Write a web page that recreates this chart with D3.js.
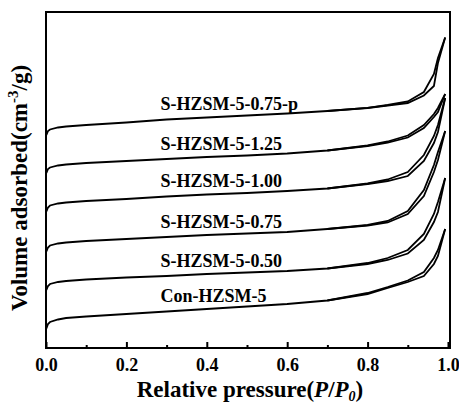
<!DOCTYPE html>
<html>
<head>
<meta charset="utf-8">
<script src="https://cdn.jsdelivr.net/npm/d3@7"></script>
<style>
  body { margin: 0; background: #fff; }
  text { font-family: "Liberation Serif", "Times New Roman", serif; font-weight: bold; }
</style>
</head>
<body>
<script>
// N2 isotherms, stacked with offsets (arbitrary y units)

const samples = ['S-HZSM-5-0.75-p', 'S-HZSM-5-1.25', 'S-HZSM-5-1.00', 'S-HZSM-5-0.75', 'S-HZSM-5-0.50', 'Con-HZSM-5'];

const adsP = [0.001, 0.005, 0.01, 0.03, 0.05, 0.1, 0.2, 0.3, 0.4, 0.5, 0.6, 0.7, 0.8, 0.85, 0.9, 0.94, 0.965, 0.975, 0.993];
const desP = [0.993, 0.975, 0.965, 0.94, 0.9, 0.85, 0.8, 0.7];

const ads075p = [213, 217, 218.5, 220.5, 221.5, 223, 225.5, 228.5, 230.5, 232.5, 234.5, 237, 240, 242.5, 245, 252.5, 262, 285, 310.5];
const des075p = [310.5, 290, 274, 256, 246.5, 243, 240.2, 237];
const ads125 = [175, 179, 180.5, 182.5, 183.5, 185, 187, 189, 191, 192.5, 194.5, 197.5, 202, 205.5, 210.5, 220, 231, 236, 254];
const des125 = [254, 240, 234, 223, 212.5, 206.5, 202.5, 197.5];
const ads100 = [136.5, 140.5, 142.5, 144.5, 145.5, 147, 149, 151.5, 153.5, 155, 157, 159.5, 164, 167, 172, 187, 205, 216, 250];
const des100 = [250, 223, 212, 193, 176, 168.5, 164.5, 159.5];
const ads075 = [96.5, 100.5, 102.5, 104.5, 105.5, 107, 109, 111, 113, 114.5, 116, 119, 122.5, 125.5, 134, 152, 176, 188, 217];
const des075 = [217, 196, 183, 158, 137, 127, 123, 119];
const ads050 = [58, 62, 64, 66, 67, 68.5, 70.5, 72, 74, 75.5, 77, 79.5, 84, 88, 94.5, 108, 126, 136, 170];
const des050 = [170, 146, 134, 114, 98, 90, 85, 79.5];
const adsCon = [19.5, 24, 26, 28.5, 30, 31.5, 34, 36.5, 39, 41.5, 44, 47.5, 54, 60, 66, 72, 84, 92, 119];
const desCon = [119, 98, 90, 76, 67.5, 61, 55, 47.5];

const adsAll = [ads075p, ads125, ads100, ads075, ads050, adsCon];
const desAll = [des075p, des125, des100, des075, des050, desCon];

const xTickValues = [0, 0.2, 0.4, 0.6, 0.8, 1.0];
const xMinorValues = [0.1, 0.3, 0.5, 0.7, 0.9];
const labelP = 0.285;

const svgWidth = 459;
const svgHeight = 403;
const margin = { top: 12, right: 9, bottom: 55, left: 46 };

const xScale = d3.scaleLinear()
  .domain([0, 1.005])
  .range([margin.left, svgWidth - margin.right]);

const yScale = d3.scaleLinear()
  .domain([0, 336])
  .range([svgHeight - margin.bottom, margin.top]);

const svg = d3.select('body').append('svg')
  .attr('width', svgWidth)
  .attr('height', svgHeight);

const line = d3.line()
  .x(d => xScale(d[0]))
  .y(d => yScale(d[1]));

// isotherm curves
samples.forEach((name, i) => {
  const ads = adsP.map((p, j) => [p, adsAll[i][j]]);
  const des = desP.map((p, j) => [p, desAll[i][j]]);
  svg.append('path')
    .attr('d', line(ads))
    .attr('fill', 'none')
    .attr('stroke', '#000')
    .attr('stroke-width', 1.8);
  svg.append('path')
    .attr('d', line(des))
    .attr('fill', 'none')
    .attr('stroke', '#000')
    .attr('stroke-width', 1.8);

  // label sits just above its curve
  const yAtLabel = d3.scaleLinear().domain(adsP).range(adsAll[i])(labelP);
  svg.append('text')
    .attr('x', xScale(labelP))
    .attr('y', yScale(yAtLabel) - 9.5)
    .attr('font-size', 18)
    .text(name);
});

// bottom axis: major + minor ticks pointing inward
const xAxis = d3.axisBottom(xScale)
  .tickValues(xTickValues)
  .tickFormat(d3.format('.1f'))
  .tickSizeInner(-6)
  .tickSizeOuter(0)
  .tickPadding(10);

const gx = svg.append('g')
  .attr('transform', `translate(0,${svgHeight - margin.bottom})`)
  .call(xAxis);
gx.select('.domain').remove();
gx.selectAll('line').attr('stroke-width', 2);
gx.selectAll('text')
  .attr('font-size', 18)
  .attr('font-family', '"Liberation Serif", "Times New Roman", serif')
  .attr('font-weight', 'bold')
  .attr('fill', '#000');

const xMinor = d3.axisBottom(xScale)
  .tickValues(xMinorValues)
  .tickFormat('')
  .tickSizeInner(-3)
  .tickSizeOuter(0);

const gm = svg.append('g')
  .attr('transform', `translate(0,${svgHeight - margin.bottom})`)
  .call(xMinor);
gm.select('.domain').remove();
gm.selectAll('line').attr('stroke-width', 2);

// frame
svg.append('rect')
  .attr('x', margin.left)
  .attr('y', margin.top)
  .attr('width', svgWidth - margin.right - margin.left)
  .attr('height', svgHeight - margin.bottom - margin.top)
  .attr('fill', 'none')
  .attr('stroke', '#000')
  .attr('stroke-width', 2);

// axis titles
const xTitle = svg.append('text')
  .attr('x', 250)
  .attr('y', 397)
  .attr('text-anchor', 'middle')
  .attr('font-size', 23);
xTitle.append('tspan').text('Relative pressure(');
xTitle.append('tspan').attr('font-style', 'italic').text('P');
xTitle.append('tspan').text('/');
xTitle.append('tspan').attr('font-style', 'italic').text('P');
xTitle.append('tspan').attr('font-style', 'italic').attr('font-size', 14).attr('dy', 3.5).text('0');
xTitle.append('tspan').attr('dy', -3.5).text(')');

const yTitle = svg.append('text')
  .attr('transform', 'translate(27,188) rotate(-90)')
  .attr('text-anchor', 'middle')
  .attr('font-size', 23);
yTitle.append('tspan').text('Volume adsorbed(cm');
yTitle.append('tspan').attr('font-size', 15).attr('dy', -9).text('-3');
yTitle.append('tspan').attr('dy', 9).text('/g)');
</script>
</body>
</html>
